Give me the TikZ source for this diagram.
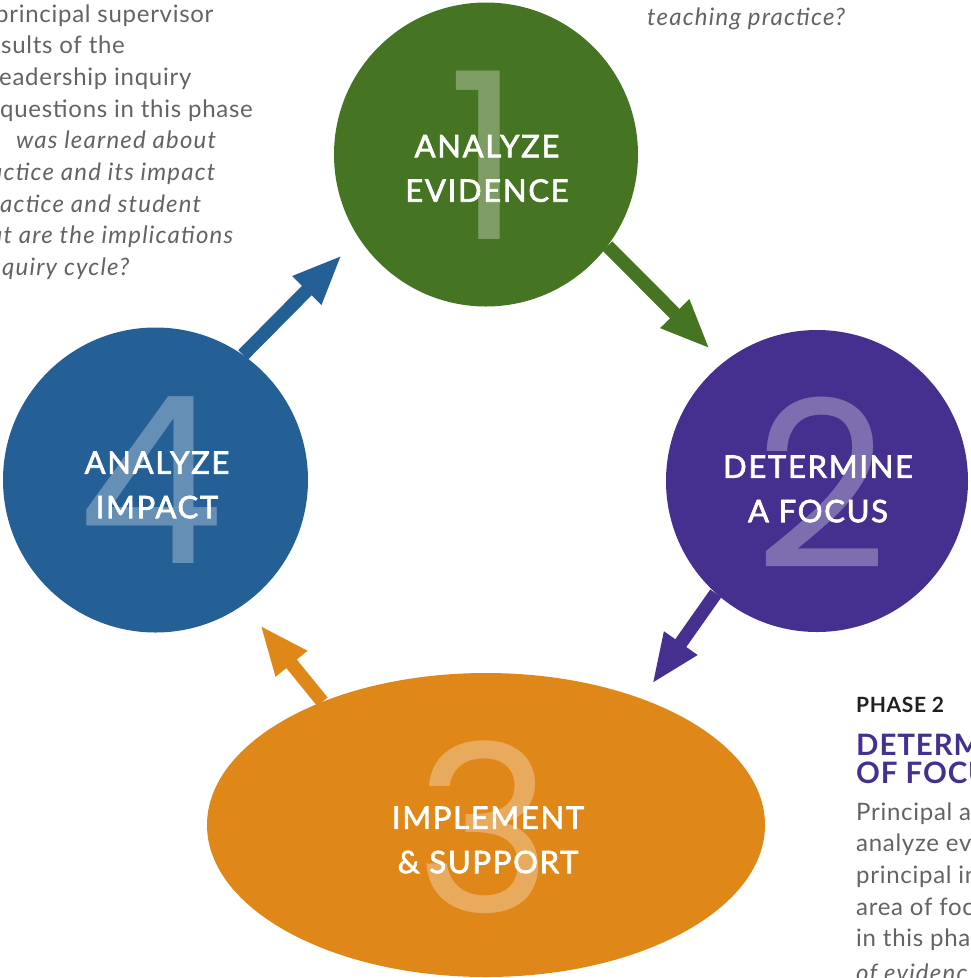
\documentclass[tikz,border=0pt]{standalone}
\usepackage{fontspec}
\setmainfont{Lato}
\newfontfamily\bodyfont{Lato}[LetterSpace=3]
\newfontfamily\bodyslfont{Lato}[LetterSpace=5]
\newfontfamily\headfont{Lato}[LetterSpace=3]
\newfontfamily\labelfont{Lato}[LetterSpace=5.5, FakeBold=2.2]
\newfontfamily\numfont{Poppins}
\usetikzlibrary{arrows.meta,shapes.geometric}

\definecolor{cgreen}{RGB}{69,116,35}
\definecolor{cpurple}{RGB}{69,48,143}
\definecolor{cblue}{RGB}{36,95,150}
\definecolor{corange}{RGB}{223,135,25}
\definecolor{bodygray}{RGB}{98,99,102}
\definecolor{headdark}{RGB}{35,31,32}

\tikzset{
  disc/.style={circle, draw=none, inner sep=0pt},
  oval/.style={ellipse, draw=none, inner sep=0pt},
  numeral/.style={inner sep=0pt, text=white, text opacity=0.3,
    font=\numfont\fontsize{233}{233}\selectfont},
  phaselabel/.style={inner sep=0pt, text=white, align=center,
    font=\labelfont\fontsize{31}{44.4}\selectfont},
  flow/.style={line width=13.5pt, -{Triangle[length=50pt,width=37pt]}},
  body/.style={anchor=base west, inner sep=0pt, text=bodygray,
    font=\bodyfont\fontsize{24}{31.7}\selectfont},
  bodyit/.style={body, font=\bodyslfont\fontsize{24}{31.7}\selectfont\itshape},
  heading/.style={anchor=base west, inner sep=0pt},
  phasetag/.style={heading, text=headdark, font=\headfont\fontsize{21}{25}\selectfont\bfseries},
  phasetitle/.style={heading, text=cpurple, font=\headfont\fontsize{29.5}{28}\selectfont\bfseries},
}

\begin{document}
\begin{tikzpicture}[x=1pt,y=-1pt]
\useasboundingbox (0,0) rectangle (970,978);
\clip (0,0) rectangle (970,978);

% the four phases of the cycle
\node[disc, fill=cgreen,  minimum size=304pt] (c1) at (486,154.5) {};
\node[disc, fill=cpurple, minimum size=302pt] (c2) at (817,481) {};
\node[oval, fill=corange, minimum width=558pt, minimum height=304pt] (c3) at (486,825) {};
\node[disc, fill=cblue,   minimum size=305pt] (c4) at (155.5,480) {};

% large phase numbers
\node[numeral] (n1) at (485,155.5) {1};
\node[numeral] (n2) at (821,482.5) {2};
\node[numeral] (n3) at (484,827) {3};
\node[numeral] (n4) at (151,480.5) {4};

% phase names
\node[phaselabel] (l1) at (487,168.5) {ANALYZE\\EVIDENCE};
\node[phaselabel] (l2) at (818,489) {DETERMINE\\A FOCUS};
\node[phaselabel] (l3) at (488,840) {IMPLEMENT\\\& SUPPORT};
\node[phaselabel] (l4) at (157,485) {ANALYZE\\IMPACT};

% arrows between phases
\coordinate (t12) at (710,349);
\coordinate (t23) at (652,684);
\coordinate (t34) at (260,625);
\coordinate (t41) at (342,255);
\draw[flow, cgreen]  (c1.-37.7) -- (t12);
\draw[flow, cpurple] (c2.-132)  -- (t23);
\draw[flow, corange] (c3.143.2) -- (t34);
\draw[flow, cblue]   (c4.55.7)  -- (t41);

% phase 4 description (left column)
\node[body]   (a1) at (-5,22)    {principal supervisor};
\node[body]   (a2) at (1,53.7)   {sults of the};
\node[body]   (a3) at (-1,85.4)  {eadership inquiry};
\node[body]   (a4) at (0,117.1)  {questions in this phase};
\node[bodyit] (a5) at (16,148.8) {was learned about};
\node[bodyit] (a6) at (-10,180.5) {actice and its impact};
\node[bodyit] (a7) at (0,212.2)  {actice and student};
\node[bodyit] (a8) at (-10,243.9) {at are the implications};
\node[bodyit] (a9) at (2,275.6)  {quiry cycle?};

% phase 1 description (top right)
\node[bodyit] (b0) at (932,-6.7) {g};
\node[bodyit] (b1) at (647,25)   {teaching practice?};

% phase 2 description (bottom right)
\node[phasetag]   (p0) at (856,712) {PHASE 2};
\node[phasetitle] (p1) at (856,755) {DETERM};
\node[phasetitle] (p2) at (856,783) {OF FOCU};
\node[body]   (q1) at (856,820)   {Principal a};
\node[body]   (q2) at (856,851.7) {analyze ev};
\node[body]   (q3) at (856,883.4) {principal in};
\node[body]   (q4) at (856,915.1) {area of foc};
\node[body]   (q5) at (856,946.8) {in this pha};
\node[bodyit] (q6) at (856,981)   {of evidenc};
\end{tikzpicture}
\end{document}
